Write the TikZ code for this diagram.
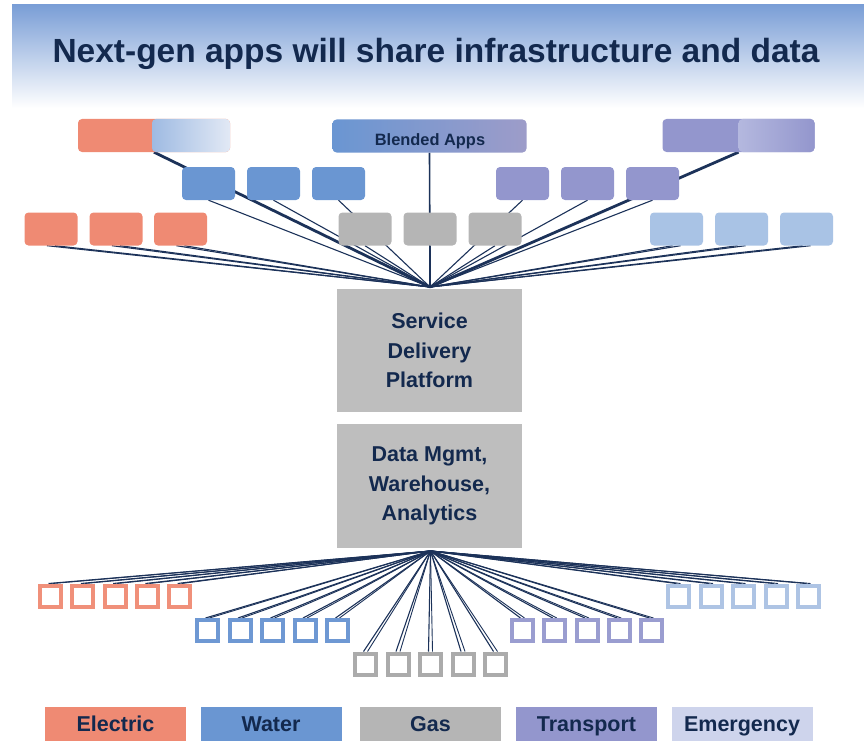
\documentclass[tikz,border=0pt]{standalone}
\usepackage{fontspec}
\setmainfont{Liberation Sans}
\definecolor{navy}{HTML}{13294E}
\definecolor{lnk}{HTML}{1C3259}
\definecolor{sal}{HTML}{EF8A73}
\definecolor{blu}{HTML}{6A96D2}
\definecolor{bdeep}{HTML}{5E8ED0}
\definecolor{blite}{HTML}{E2E9F5}
\definecolor{gry}{HTML}{B5B5B5}
\definecolor{pur}{HTML}{9396CD}
\definecolor{plite}{HTML}{D5DAF0}
\definecolor{bapp}{HTML}{9D9CC9}
\definecolor{lbl}{HTML}{A9C3E5}
\definecolor{emg}{HTML}{CED4EC}
\definecolor{core}{HTML}{BEBEBE}
\definecolor{bandtop}{HTML}{7A9ED6}
\definecolor{salq}{HTML}{F0907A}
\definecolor{bluq}{HTML}{6E98D3}
\definecolor{gryq}{HTML}{ABABAB}
\definecolor{purq}{HTML}{9A9DD0}
\definecolor{lblq}{HTML}{AEC4E4}
\pgfdeclarelayer{bg}
\pgfsetlayers{bg,main}
\begin{document}
\begin{tikzpicture}[x=1pt,y=-1pt,
  appbox/.style={rectangle, rounded corners=4pt, minimum width=53pt, minimum height=33pt, inner sep=0pt},
  widebox/.style={appbox, minimum width=152pt},
  sqbox/.style={rectangle, line width=4pt, fill=white, minimum size=21pt, inner sep=0pt},
  legbox/.style={rectangle, minimum width=141pt, minimum height=34pt, inner sep=0pt, text=navy,
     text height=15pt, text depth=0pt, font=\fontsize{21.5}{24}\selectfont\bfseries},
  corebox/.style={rectangle, fill=core, minimum width=185pt, inner sep=0pt, text=navy, align=center,
     font=\fontsize{21.5}{29.5}\selectfont\bfseries},
  link/.style={draw=lnk, line width=1.1pt},
  heavylink/.style={draw=lnk, line width=2.8pt},
]
\useasboundingbox (0,0) rectangle (864,741);

% title
\node[font=\fontsize{33.5}{40}\selectfont\bfseries, text=navy, anchor=base] (title) at (436,62.5)
  {Next-gen apps will share infrastructure and data};

% top row
\node[widebox, fill=sal, path picture={\shade[left color=bdeep, right color=blite]
   ([xshift=-2pt]path picture bounding box.north) rectangle (path picture bounding box.south east);}]
   (L) at (154,135.5) {};
\node[widebox, minimum width=194pt, left color=blu, right color=bapp] (ba) at (429.5,136) {};
\node[font=\fontsize{16.4}{18}\selectfont\bfseries, text=navy, anchor=base] (batxt) at (430,145) {Blended Apps};
\node[widebox, fill=pur, path picture={\shade[left color=plite, right color=pur]
   (path picture bounding box.north) rectangle (path picture bounding box.south east);}]
   (R) at (738.5,135.5) {};

% row 2
\foreach \i/\x in {1/208.5,2/273.5,3/338.5} \node[appbox, fill=blu] (w\i) at (\x,183.5) {};
\foreach \i/\x in {1/522.5,2/587.5,3/652.5} \node[appbox, fill=pur] (t\i) at (\x,183.5) {};
% row 3
\foreach \i/\x in {1/51,2/116,3/180.5} \node[appbox, fill=sal] (e\i) at (\x,229) {};
\foreach \i/\x in {1/365,2/430,3/495} \node[appbox, fill=gry] (g\i) at (\x,229) {};
\foreach \i/\x in {1/676.5,2/741.5,3/806.5} \node[appbox, fill=lbl] (m\i) at (\x,229) {};

% core boxes
\coordinate (hub) at (430,287);
\node[corebox, minimum height=123pt] (sdp) at (429.5,350.5) {Service\\Delivery\\Platform};
\node[corebox, minimum height=124pt] (dm) at (429.5,486) {Data Mgmt,\\Warehouse,\\Analytics};
\coordinate (hub2) at (430.5,551);

% bottom squares
\foreach \i/\x in {1/50.5,2/82.8,3/115.1,4/147.4,5/179.7} \node[sqbox, draw=salq] (es\i) at (\x,596) {};
\foreach \i/\x in {1/207.5,2/240,3/272.5,4/305,5/337.5} \node[sqbox, draw=bluq] (ws\i) at (\x,630.5) {};
\foreach \i/\x in {1/365.5,2/398,3/430.5,4/463,5/495.5} \node[sqbox, draw=gryq] (gs\i) at (\x,664) {};
\foreach \i/\x in {1/522.5,2/554.75,3/587,4/619.25,5/651.5} \node[sqbox, draw=purq] (ts\i) at (\x,630.5) {};
\foreach \i/\x in {1/678.5,2/711,3/743.5,4/776,5/808.5} \node[sqbox, draw=lblq] (ms\i) at (\x,596) {};

% legend
\node[legbox, fill=sal] (lE) at (115.5,724) {Electric};
\node[legbox, fill=blu] (lW) at (271,724) {Water};
\node[legbox, fill=gry] (lG) at (430.5,724) {Gas};
\node[legbox, fill=pur] (lT) at (586.5,724) {Transport};
\node[legbox, fill=emg] (lM) at (742,724) {Emergency};

\begin{pgfonlayer}{bg}
  \shade[top color=bandtop, bottom color=white] (12,5) rectangle (864,108);
  % top links
  \draw[heavylink] (L.south) -- (hub);
  \draw[heavylink] (R.south) -- (hub);
  \draw[link, line width=1.6pt] (ba.south) -- (hub);
  \foreach \n in {w1,w2,w3,t1,t2,t3,g1,g2,g3} \draw[link] (\n.south) -- (hub);
  \foreach \n in {e1,e2,e3,m1,m2,m3} {
    \draw[link] ([xshift=-4pt]\n.south) -- (hub);
    \draw[link] ([xshift=4pt]\n.south) -- (hub);
  }
  % bottom links
  \foreach \g in {es,ws,gs,ts,ms} \foreach \i in {1,...,5} {
    \draw[link] (hub2) -- ([xshift=-2pt]\g\i.north);
    \draw[link, line width=0.9pt] (hub2) -- ([xshift=2pt]\g\i.north);
  }
\end{pgfonlayer}
\end{tikzpicture}
\end{document}
